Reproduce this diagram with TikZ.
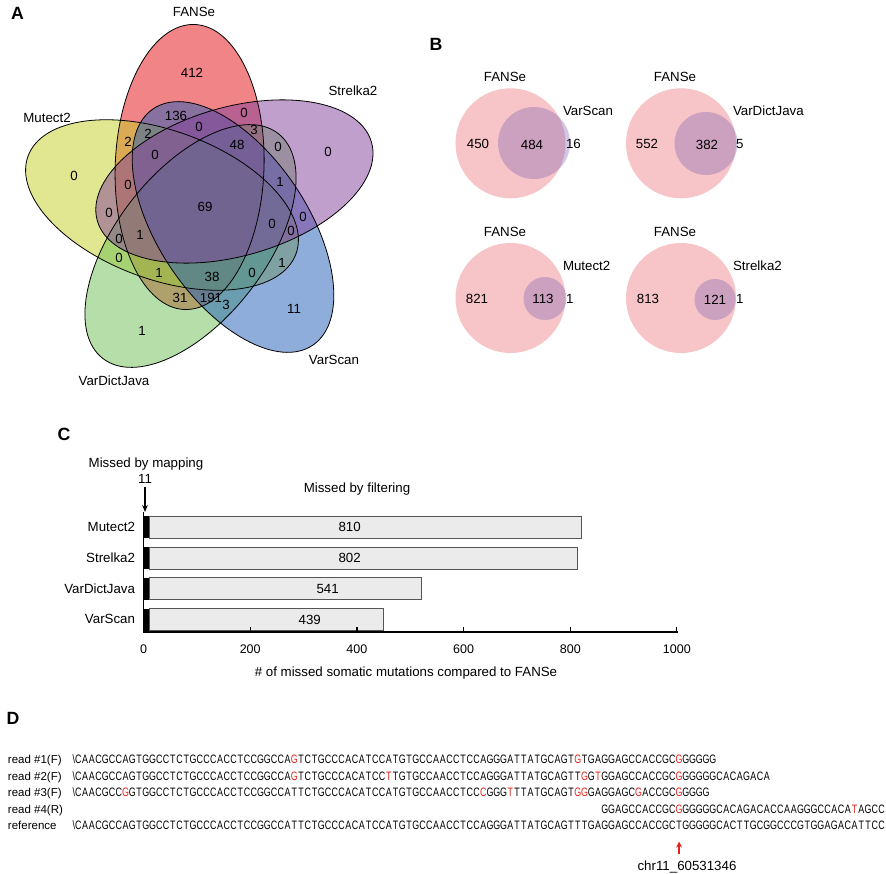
\documentclass[tikz,border=0pt]{standalone}
\usepackage{fontspec}
\setmainfont{Liberation Sans}
\newfontfamily\seqfont[FakeStretch=0.73,Kerning=Off]{Liberation Sans}
\usetikzlibrary{arrows.meta,calc}
\definecolor{cfanse}{RGB}{227,11,17}
\definecolor{cmutect}{RGB}{197,209,35}
\definecolor{cstrelka}{RGB}{131,65,155}
\definecolor{cvarscan}{RGB}{33,93,183}
\definecolor{cvardict}{RGB}{109,191,83}
\definecolor{bpink}{RGB}{247,196,200}
\definecolor{bblue}{RGB}{124,93,177}
\definecolor{bargray}{RGB}{235,235,235}
\definecolor{baredge}{RGB}{85,85,85}
\definecolor{seqred}{RGB}{226,35,26}
\newcommand\R[1]{\textcolor{seqred}{#1}}
\newlength\sqw \setlength\sqw{6.75pt}
\makeatletter
\def\sq#1{\sq@a#1\relax}
\def\sq@a#1{\ifx\relax#1\else\sq@c{#1}\expandafter\sq@a\fi}
\def\sq@c#1{\if x#1\makebox[3pt][r]{\textbackslash}\else\makebox[\sqw]{\sq@m#1}\fi}
\def\sq@m#1{\if a#1\R{A}\else\if c#1\R{C}\else\if g#1\R{G}\else\if t#1\R{T}\else #1\fi\fi\fi\fi}
\makeatother
\begin{document}
\begin{tikzpicture}[x=1pt,y=-1pt,
  every node/.style={inner sep=0pt, outer sep=0pt},
  lbl/.style={font=\fontsize{13.3}{15}\selectfont, text height=9.5pt, text depth=0pt},
  tick/.style={font=\fontsize{12.5}{14}\selectfont, text height=9pt, text depth=0pt},
  panel/.style={font=\fontsize{17.7}{20}\selectfont\bfseries, text height=12.7pt, text depth=0pt},
  seq/.style={font=\seqfont\fontsize{12.2}{14}\selectfont, anchor=base west},
  seqlbl/.style={font=\fontsize{11.5}{13}\selectfont, anchor=base west},
  venn/.style={fill opacity=0.5},
  vline/.style={draw=black, line width=0.8pt},
  bar/.style={draw=baredge, fill=bargray, line width=0.8pt},
  e0/.style={shift={(189.6,167.0)}, rotate=88},
  e1/.style={shift={(234.4,181.5)}, rotate=16},
  e2/.style={shift={(233.0,227.0)}, rotate=-56},
  e3/.style={shift={(190.5,246.0)}, rotate=-128},
  e4/.style={shift={(162.0,205.0)}, rotate=160},
  ]
\useasboundingbox (0,0) rectangle (886,874);
\fill[white] (0,0) rectangle (886,874);

% ---------- Panel A ----------
\node[panel] (pA) at (17.5,13) {A};
\fill[cfanse,venn,e0] (0,0) ellipse [x radius=142.6pt, y radius=74.4pt];
\fill[cmutect,venn,e4] (0,0) ellipse [x radius=142.6pt, y radius=74.4pt];
\fill[cvardict,venn,e3] (0,0) ellipse [x radius=142.6pt, y radius=74.4pt];
\fill[cvarscan,venn,e2] (0,0) ellipse [x radius=142.6pt, y radius=74.4pt];
\fill[cstrelka,venn,e1] (0,0) ellipse [x radius=142.6pt, y radius=74.4pt];
\foreach \s in {e0,e1,e2,e3,e4}
  \draw[vline,\s] (0,0) ellipse [x radius=142.6pt, y radius=74.4pt];

\foreach \x/\y/\t [count=\i] in {192/73/412, 176/116/136, 244/113/0, 199/127/0, 254/130/3,
  128/142/2, 148/134/2, 237/145/48, 278/147/0, 328/152/0, 155/155/0, 74/176/0, 128/185/0,
  280/182/1, 205/207/69, 109/213/0, 303/217/0, 272/224/0, 291/231/0, 119/239/0, 140/235/1,
  119/258/0, 282/263/1, 159/273/1, 252/273/0, 212/277/38, 180/298/31, 211/298/191,
  226/305/3, 294/309/11, 142/331/1}
  \node[lbl] (va\i) at (\x,\y) {\t};

\node[lbl] (lfanse) at (194,12) {FANSe};
\node[lbl] (lstrelka) at (353,91) {Strelka2};
\node[lbl] (lmutect) at (47,118) {Mutect2};
\node[lbl] (lvarscan) at (334,360) {VarScan};
\node[lbl] (lvardict) at (114,381) {VarDictJava};

% ---------- Panel B ----------
\node[panel] (pB) at (436,44) {B};
\fill[bpink] (510.5,143.3) circle [radius=55pt];
\fill[bblue,fill opacity=0.35] (534,143) circle [radius=36pt];
\fill[bpink] (681,143.3) circle [radius=55pt];
\fill[bblue,fill opacity=0.35] (706,143.5) circle [radius=31.5pt];
\fill[bpink] (510.5,298) circle [radius=55pt];
\fill[bblue,fill opacity=0.35] (545,298.5) circle [radius=21.5pt];
\fill[bpink] (681,298) circle [radius=55pt];
\fill[bblue,fill opacity=0.35] (715,299.5) circle [radius=20.5pt];

\node[lbl] (b1f) at (505,77) {FANSe};
\node[lbl] (b2f) at (675,77) {FANSe};
\node[lbl] (b3f) at (505,232) {FANSe};
\node[lbl] (b4f) at (675,232) {FANSe};
\node[lbl,anchor=west] (b1t) at (563,111) {VarScan};
\node[lbl,anchor=west] (b2t) at (733,111) {VarDictJava};
\node[lbl,anchor=west] (b3t) at (563,266) {Mutect2};
\node[lbl,anchor=west] (b4t) at (733,266) {Strelka2};
\node[lbl] (b1a) at (478,144) {450};
\node[lbl] (b1b) at (532,145) {484};
\node[lbl,anchor=west] (b1c) at (566,144) {16};
\node[lbl] (b2a) at (647,144) {552};
\node[lbl] (b2b) at (707,145) {382};
\node[lbl,anchor=west] (b2c) at (736,144) {5};
\node[lbl] (b3a) at (477,299) {821};
\node[lbl] (b3b) at (543,299) {113};
\node[lbl,anchor=west] (b3c) at (566,299) {1};
\node[lbl] (b4a) at (648,299) {813};
\node[lbl] (b4b) at (715,300) {121};
\node[lbl,anchor=west] (b4c) at (736,299) {1};

% ---------- Panel C ----------
\node[panel] (pC) at (64,434) {C};
\node[lbl] (mm) at (146,463) {Missed by mapping};
\node[lbl] (n11) at (145,479) {11};
\coordinate (atip) at (145,512);
\draw[-{Stealth[length=7pt,width=5.5pt]}, line width=1.1pt, shorten <=3pt] (n11.south) -- (atip);
\node[lbl] (mf) at (357,488) {Missed by filtering};

\draw[bar] (149.4,516) rectangle (581.8,538);
\draw[bar] (149.4,547) rectangle (577.2,569);
\draw[bar] (149.4,577.5) rectangle (421,599.5);
\draw[bar] (149.4,608.5) rectangle (383.5,630.5);
\fill[black] (143.5,516) rectangle (149.4,538);
\fill[black] (143.5,547) rectangle (149.4,569);
\fill[black] (143.5,577.5) rectangle (149.4,599.5);
\fill[black] (143.5,608.5) rectangle (149.4,630.5);
\draw[line width=1.5pt] (143.5,512) -- (143.5,632.7);
\draw[line width=1.5pt] (142.75,632) -- (677.5,632);
\foreach \x in {250.2,356.9,463.6,570.3,676.8}
  \draw[line width=1.3pt] (\x,632) -- (\x,627);

\node[lbl,anchor=east] (cm) at (135,527) {Mutect2};
\node[lbl,anchor=east] (cs) at (135,557.5) {Strelka2};
\node[lbl,anchor=east] (cd) at (135,588.5) {VarDictJava};
\node[lbl,anchor=east] (cv) at (135,619) {VarScan};
\node[lbl] (vm) at (349.6,527) {810};
\node[lbl] (vs) at (349.6,558) {802};
\node[lbl] (vd) at (327.6,588.5) {541};
\node[lbl] (vv) at (309.7,619.5) {439};
\foreach \x/\t [count=\i] in {143.5/0, 250.2/200, 356.9/400, 463.6/600, 570.3/800, 676.8/1000}
  \node[tick] (tk\i) at (\x,649) {\t};
\node[lbl] (xt) at (406,672) {\# of missed somatic mutations compared to FANSe};

% ---------- Panel D ----------
\node[panel] (pD) at (13,718) {D};
\node[seqlbl] (r1l) at (8,763.9) {read \#1(F)};
\node[seqlbl] (r2l) at (8,780.3) {read \#2(F)};
\node[seqlbl] (r3l) at (8,796.8) {read \#3(F)};
\node[seqlbl] (r4l) at (8,813.2) {read \#4(R)};
\node[seqlbl] (rfl) at (8,829.6) {reference};

\node[seq] (r1) at (72,763.9) {\sq{xCAACGCCAGTGGCCTCTGCCCACCTCCGGCCAgTCTGCCCACATCCATGTGCCAACCTCCAGGGATTATGCAGTgTGAGGAGCCACCGCgGGGGG}};
\node[seq] (r2) at (72,780.3) {\sq{xCAACGCCAGTGGCCTCTGCCCACCTCCGGCCAgTCTGCCCACATCCtTGTGCCAACCTCCAGGGATTATGCAGTTgGtGGAGCCACCGCgGGGGGCACAGACA}};
\node[seq] (r3) at (72,796.8) {\sq{xCAACGCCgGTGGCCTCTGCCCACCTCCGGCCATTCTGCCCACATCCATGTGCCAACCTCCcGGGtTTATGCAGTggGAGGAGCgACCGCgGGGG}};
\node[seq] (rf) at (72,829.6) {\sq{xCAACGCCAGTGGCCTCTGCCCACCTCCGGCCATTCTGCCCACATCCATGTGCCAACCTCCAGGGATTATGCAGTTTGAGGAGCCACCGCTGGGGGCACTTGCGGCCCGTGGAGACATTCC}};
\node[seq] (r4) at ($(rf.base west)+(3+78*6.75,-16.4)$) {\sq{GGAGCCACCGCgGGGGGCACAGACACCAAGGGCCACAtAGCC}};

\coordinate (rtail) at ($(rf.base west)+(3+89.5*6.75,24.5)$);
\coordinate (rtip) at ($(rf.base west)+(3+89.5*6.75,12)$);
\draw[seqred, line width=1.4pt, -{Stealth[length=6pt,width=6pt]}] (rtail) -- (rtip);
\node[lbl] (chr) at (687,866) {chr11\_60531346};
\end{tikzpicture}
\end{document}
